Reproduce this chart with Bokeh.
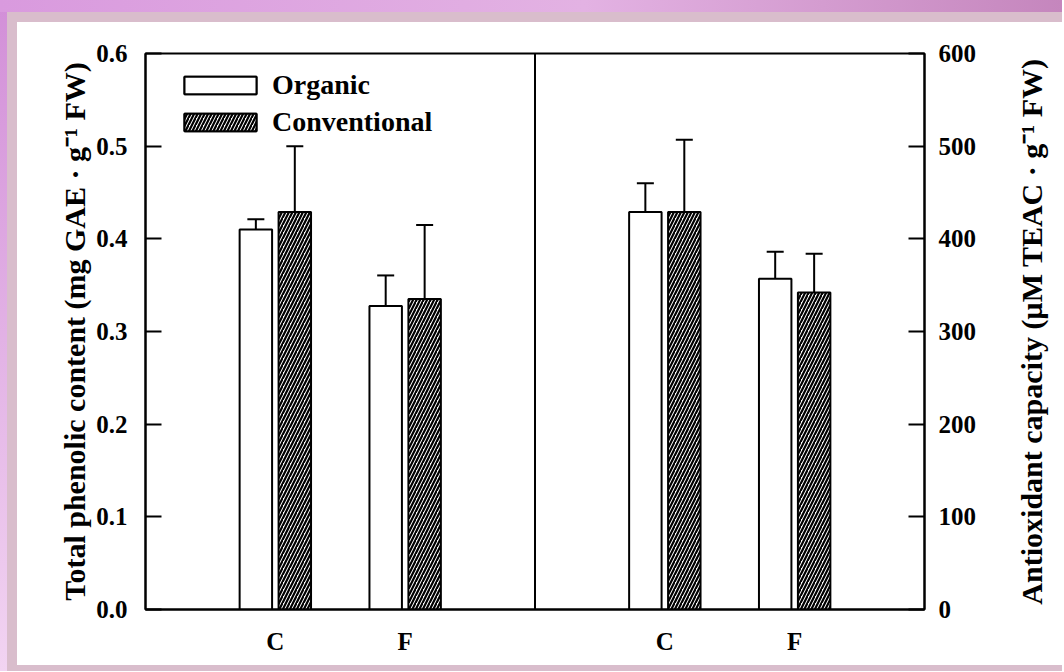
from bokeh.plotting import figure
from bokeh.models import (ColumnDataSource, Range1d, LinearAxis, FixedTicker, Whisker,
                          Span, Legend, LegendItem, NumeralTickFormatter, TeeHead, Title)
from bokeh.layouts import row, column
from bokeh.embed import file_html
from bokeh.resources import INLINE

# ---------------- data ----------------
groups = ["C", "F"]
series = ["Organic", "Conventional"]
phenolic_organic = [0.410, 0.3275]
phenolic_organic_err = [0.011, 0.033]
phenolic_conv = [0.429, 0.335]
phenolic_conv_err = [0.071, 0.080]
antiox_organic = [429, 357]
antiox_organic_err = [31, 29]
antiox_conv = [429, 342]
antiox_conv_err = [78, 42]
left_ticks = [0.0, 0.1, 0.2, 0.3, 0.4, 0.5, 0.6]
right_ticks = [0, 100, 200, 300, 400, 500, 600]
left_label = "Total phenolic content (mg GAE \u00b7 g\u207b\u00b9 FW)"
right_label = "Antioxidant capacity (\u00b5M TEAC \u00b7 g\u207b\u00b9 FW)"

FONT = "Liberation Serif"
PANEL_W = 3.0
BAR_W = 0.25
OFFSET = 0.15
FIG_W, FIG_H = 983, 643

def xs(panel, shift):
    return [panel * PANEL_W + 1 + j + shift for j in range(len(groups))]

p = figure(width=FIG_W, height=FIG_H, output_backend="svg", toolbar_location=None,
           x_range=Range1d(0, 2 * PANEL_W), y_range=Range1d(0, 0.6),
           min_border_left=128, min_border_right=76, min_border_top=31, min_border_bottom=56,
           border_fill_color="white", background_fill_color="white")
p.extra_y_ranges = {"right": Range1d(0, 600)}
p.xgrid.grid_line_color = None
p.ygrid.grid_line_color = None
p.outline_line_color = "black"
p.outline_line_width = 2

bar_kw = dict(width=BAR_W, line_color="black", line_width=2)
hatch_kw = dict(fill_color="white", hatch_pattern="/", hatch_scale=7, hatch_weight=2.2, hatch_color="black")

def make(panel, vals, errs, shift, rng, hatch):
    x = xs(panel, shift)
    src = ColumnDataSource(dict(x=x, top=vals,
                                upper=[v + e for v, e in zip(vals, errs)],
                                lower=[v - e for v, e in zip(vals, errs)]))
    kw = dict(bar_kw)
    if hatch:
        kw.update(hatch_kw)
    else:
        kw.update(fill_color="white")
    if rng:
        r = p.vbar(x="x", top="top", bottom=0, source=src, y_range_name=rng, **kw)
    else:
        r = p.vbar(x="x", top="top", bottom=0, source=src, **kw)
    wk = dict(base="x", upper="upper", lower="lower", source=src, line_width=2, line_color="black",
              upper_head=TeeHead(size=17, line_width=2, line_color="black"),
              lower_head=TeeHead(size=17, line_width=2, line_color="black"))
    if rng:
        wk["y_range_name"] = rng
    p.add_layout(Whisker(**wk))
    return r

r1 = make(0, phenolic_organic, phenolic_organic_err, -OFFSET, None, False)
r2 = make(0, phenolic_conv, phenolic_conv_err, OFFSET, None, True)
r3 = make(1, antiox_organic, antiox_organic_err, -OFFSET, "right", False)
r4 = make(1, antiox_conv, antiox_conv_err, OFFSET, "right", True)

p.add_layout(Span(location=PANEL_W, dimension="height", line_color="black", line_width=2))

# axes
def style_axis(ax):
    ax.axis_line_color = "black"
    ax.axis_line_width = 2
    ax.major_tick_line_color = "black"
    ax.major_tick_line_width = 2
    ax.minor_tick_line_color = None
    ax.major_label_text_font = FONT
    ax.major_label_text_font_style = "bold"
    ax.major_label_text_font_size = "25px"
    ax.major_label_text_color = "black"
    ax.axis_label_text_font = FONT
    ax.axis_label_text_font_style = "bold"
    ax.axis_label_text_font_size = "30px"
    ax.axis_label_text_color = "black"

ya = p.yaxis[0]
ya.ticker = FixedTicker(ticks=left_ticks)
ya.formatter = NumeralTickFormatter(format="0.0")
ya.axis_label = left_label
style_axis(ya)
ya.major_tick_in = 16
ya.major_tick_out = 0
ya.major_label_standoff = 18
ya.axis_label_standoff = 2

ra = LinearAxis(y_range_name="right", ticker=FixedTicker(ticks=right_ticks))
style_axis(ra)
ra.major_tick_in = 16
ra.major_tick_out = 0
ra.major_label_standoff = 14
p.add_layout(ra, "right")

xa = p.xaxis[0]
xa.ticker = FixedTicker(ticks=xs(0, 0) + xs(1, 0))
xa.major_label_overrides = {t: g for t, g in zip(xs(0, 0) + xs(1, 0), groups + groups)}
style_axis(xa)
xa.major_tick_in = 0
xa.major_tick_out = 0
xa.major_label_standoff = 18

legend = Legend(items=[LegendItem(label=series[0], renderers=[r1, r3]),
                       LegendItem(label=series[1], renderers=[r2, r4])],
                location=(30, 471), orientation="vertical",
                glyph_width=90, glyph_height=22, label_height=18, spacing=5,
                label_standoff=7, padding=0, margin=0,
                border_line_color=None, background_fill_alpha=0,
                label_text_font=FONT, label_text_font_style="bold",
                label_text_font_size="28px", label_text_color="black")
p.add_layout(legend)

# narrow companion figure carrying the right-hand axis title (reads bottom-to-top)
p2 = figure(width=62, height=FIG_H, output_backend="svg", toolbar_location=None,
            x_range=Range1d(0, 1), y_range=Range1d(0, 1),
            x_axis_location=None, y_axis_location=None,
            min_border_left=47, min_border_right=0, min_border_top=31, min_border_bottom=56,
            border_fill_color="white", background_fill_color="white", outline_line_color=None)
p2.xgrid.grid_line_color = None
p2.ygrid.grid_line_color = None
p2.add_layout(Title(text=right_label, align="center", text_font=FONT, text_font_style="bold",
                    text_font_size="30px", text_color="black", standoff=0, offset=0), "left")

bg = ("linear-gradient(90deg, #d99ade 0%, #e3b2e3 55%, #c586bd 100%) top left / 100% 12px no-repeat, "
      "linear-gradient(180deg, #d28fd8 0%, #f2d4f2 100%) top left / 7px 100% no-repeat, #d9bdcc")
inner = row(p, p2, spacing=0, styles={"background-color": "white"})
layout = column(inner, styles={"background": bg, "padding": "22px 0px 6px 17px"})

open("out.html", "w").write(file_html(layout, INLINE))
